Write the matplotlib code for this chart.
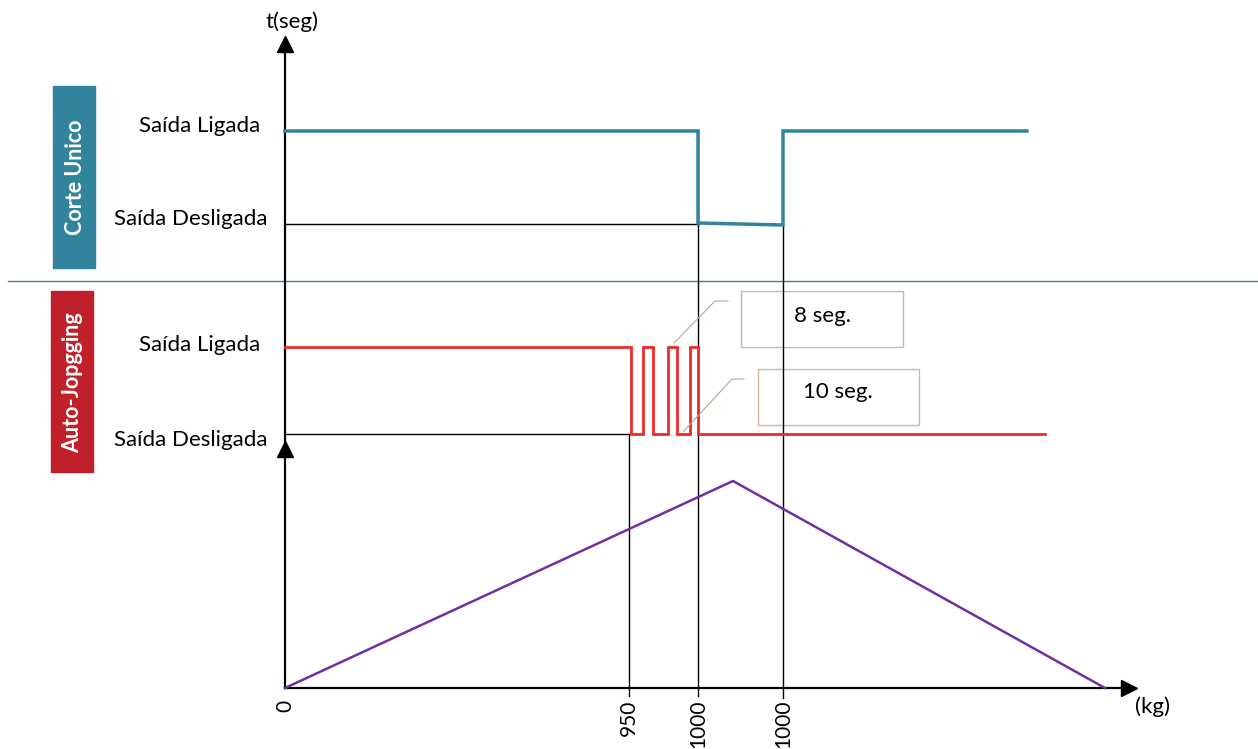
# Timing diagram: Corte Unico vs Auto-Jopgging outputs over weight (kg)
import matplotlib.pyplot as plt

plt.rcParams['font.family'] = ['Lato', 'DejaVu Sans']

# Data (diagram units = pixels of the original sketch)
axis_x0 = 285
axis_y0 = 688
tick_x = [285, 629, 698, 783]
tick_labels = ['0', '950', '1000', '1000']

# Corte Unico output
corte_on, corte_off = 131, 224
corte_x = [285, 698, 698, 783, 783, 1027]
corte_y = [131, 131, 223, 225, 131, 131]

# Auto-Jopgging output (pulses)
jog_on, jog_off = 347, 434
jog_x = [285, 631, 631, 643, 643, 653, 653, 668, 668, 677, 677, 690, 690, 698, 698, 1045]
jog_y = [347, 347, 434, 434, 347, 347, 434, 434, 347, 347, 434, 434, 347, 347, 434, 434]

# Weight ramp
ramp_x = [285, 733, 1105]
ramp_y = [688, 481, 688]

teal = '#31849b'
red = '#ee2a2a'
purple = '#7030a0'
box_edge = '#d2b4a8'

fig = plt.figure(figsize=(12.58, 7.49), dpi=100)
ax = fig.add_axes([0, 0, 1, 1])
ax.set_xlim(0, 1258)
ax.set_ylim(749, 0)
ax.axis('off')

# separator between the two panels
ax.plot([8, 1258], [281, 281], color='#4f76a8', lw=1.0)

# axes
ax.plot([axis_x0, axis_x0], [axis_y0, 48], color='black', lw=1.6)
ax.plot(axis_x0, 44, marker='^', color='black', markersize=11)
ax.plot(axis_x0, 449, marker='^', color='black', markersize=11)
ax.plot([axis_x0, 1125], [axis_y0, axis_y0], color='black', lw=1.6)
ax.plot(1129, axis_y0, marker='>', color='black', markersize=11)

# baselines for "Saída Desligada"
ax.plot([axis_x0, 698], [corte_off, corte_off], color='black', lw=1.0)
ax.plot([axis_x0, 629], [jog_off, jog_off], color='black', lw=1.0)

# vertical markers
ax.plot([629, 629], [jog_off, axis_y0 + 8], color='black', lw=1.0)
ax.plot([698, 698], [corte_on, axis_y0 + 8], color='black', lw=1.0)
ax.plot([783, 783], [corte_off, axis_y0 + 10], color='black', lw=1.0)

# signals
ax.plot(corte_x, corte_y, color=teal, lw=2.5, solid_joinstyle='miter')
ax.plot(jog_x, jog_y, color=red, lw=2.0, solid_joinstyle='miter')
ax.plot(ramp_x, ramp_y, color=purple, lw=1.8)

# tick labels
for x, lab in zip(tick_x, tick_labels):
    ax.text(x, 700, lab, rotation=90, ha='center', va='top', fontsize=15)

ax.text(292, 22, 't(seg)', ha='center', va='center', fontsize=16)
ax.text(1153, 707, '(kg)', ha='center', va='center', fontsize=16)

# level labels
for y, lab in [(126, 'Saída Ligada'), (219, 'Saída Desligada'),
               (345, 'Saída Ligada'), (440, 'Saída Desligada')]:
    x = 260 if lab.endswith('Ligada') else 267
    ax.text(x, y, lab, ha='right', va='center', fontsize=16)

# panel title boxes
ax.add_patch(plt.Rectangle((53, 86), 42, 182, color=teal))
ax.text(75, 177, 'Corte Unico', rotation=90, ha='center', va='center',
        color='white', fontsize=15.5, fontweight='bold')
ax.add_patch(plt.Rectangle((51, 291), 42, 181, color='#c0202a'))
ax.text(73, 383, 'Auto-Jopgging', rotation=90, ha='center', va='center',
        color='white', fontsize=15.5, fontweight='bold')

# callouts
ax.plot([674, 715, 728], [343, 301, 301], color='#c8a08c', lw=0.8)
ax.plot([683, 732, 744], [432, 379, 379], color='#c8a08c', lw=0.8)
ax.add_patch(plt.Rectangle((741, 291), 162, 56, fill=False, ec=box_edge, lw=1.0))
ax.add_patch(plt.Rectangle((758, 369), 161, 56, fill=False, ec=box_edge, lw=1.0))
ax.text(822, 316, '8 seg.', ha='center', va='center', fontsize=16)
ax.text(838, 392, '10 seg.', ha='center', va='center', fontsize=16)

fig.savefig('out.png', dpi=100)
